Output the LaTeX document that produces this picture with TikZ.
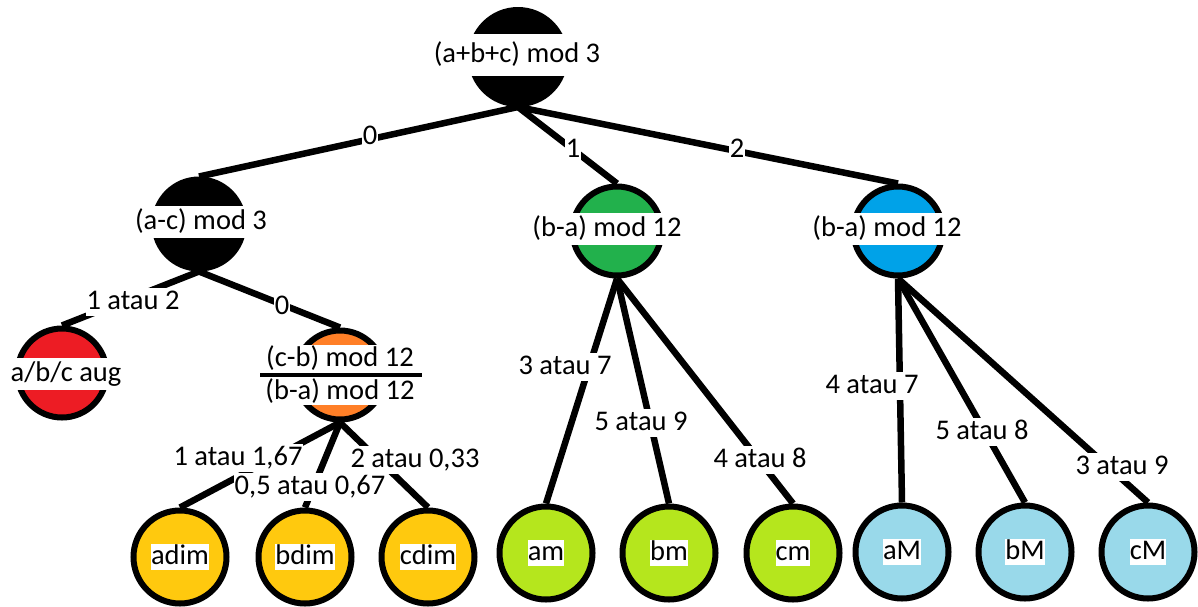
\documentclass[tikz,border=0pt]{standalone}
\usepackage{fontspec}
\setmainfont{Carlito}
\usetikzlibrary{positioning}
\definecolor{paintred}{HTML}{ED1C24}
\definecolor{paintorange}{HTML}{FF7F27}
\definecolor{dimyellow}{HTML}{FFC90E}
\definecolor{modgreen}{HTML}{22B14C}
\definecolor{mlime}{HTML}{B5E61D}
\definecolor{modblue}{HTML}{00A2E8}
\definecolor{Mblue}{HTML}{99D9EA}

\begin{document}
\begin{tikzpicture}[x=1pt,y=-1pt,
  font=\fontsize{28.5}{30}\selectfont,
  dot/.style={circle,draw=black,line width=6pt,minimum size=89pt,inner sep=0pt},
  leaf/.style={dot,minimum size=93pt},
  band/.style={fill=white,inner xsep=1pt,inner ysep=3pt,text height=20pt,text depth=6pt},
  tag/.style={fill=white,inner sep=1pt,text height=20pt,text depth=6pt},
  branch/.style={line width=6.5pt}]
  \useasboundingbox (0,0) rectangle (1198,606);
  % decision nodes
  \node[dot,fill=black,minimum size=94pt] (root) at (518,57) {};
  \node[dot,fill=black] (ac) at (199,224) {};
  \node[dot,fill=paintred] (red) at (62,373) {};
  \node[dot,fill=paintorange] (orange) at (340,375) {};
  \node[dot,fill=modgreen] (green) at (617,231) {};
  \node[dot,fill=modblue] (blue) at (898,231) {};
  % leaves
  \foreach \n/\x/\y/\c in {adim/180/557/dimyellow,bdim/305/557/dimyellow,cdim/428/557/dimyellow,
    am/546/553/mlime,bm/669/553/mlime,cm/793/553/mlime,
    aM/902/552/Mblue,bM/1025/552/Mblue,cM/1148/552/Mblue}{
    \node[leaf,fill=\c,label={[tag,inner sep=0pt]center:\n}] (\n) at (\x,\y) {};
  }
  % branches
  \foreach \a/\b in {root/ac,root/green,root/blue,ac/red,ac/orange,
    orange/adim,orange/bdim,orange/cdim,green/am,green/bm,green/cm,
    blue/aM,blue/bM,blue/cM}{
    \draw[branch] (\a.south) -- (\b.north);
  }
  % branch values
  \node[tag] (t0) at (370,137) {0};
  \node[tag] (t1) at (573,150) {1};
  \node[tag] (t2) at (737,150) {2};
  \node[tag] (acred) at (133,302) {1 atau 2};
  \node[tag] (acorange) at (282,307) {0};
  \node[tag] (oa) at (238,458) {1 atau 1,67};
  \node[tag] (ob) at (310,487) {0,5 atau 0,67};
  \node[tag] (oc) at (415,460) {2 atau 0,33};
  \node[tag] (ga) at (565,367) {3 atau 7};
  \node[tag] (gb) at (641,423) {5 atau 9};
  \node[tag] (gc) at (760,460) {4 atau 8};
  \node[tag] (ba) at (872,386) {4 atau 7};
  \node[tag] (bb) at (982,432) {5 atau 8};
  \node[tag] (bc) at (1122,467) {3 atau 9};
  % node texts
  \node[band,inner ysep=8pt] (roott) at (517,55) {(a+b+c) mod 3};
  \node[band] (act) at (201,222) {(a-c) mod 3};
  \node[band] (redt) at (66,374) {a/b/c aug};
  \node[band] (greent) at (607,229) {(b-a) mod 12};
  \node[band] (bluet) at (887,229) {(b-a) mod 12};
  \node[fill=white,inner xsep=1pt,inner ysep=1pt,align=center] (oranget) at (340,375)
    {(c-b) mod 12\\[3pt](b-a) mod 12};
  \draw[line width=4.5pt] ([xshift=-4pt]oranget.west) -- ([xshift=6pt]oranget.east);
\end{tikzpicture}
\end{document}
